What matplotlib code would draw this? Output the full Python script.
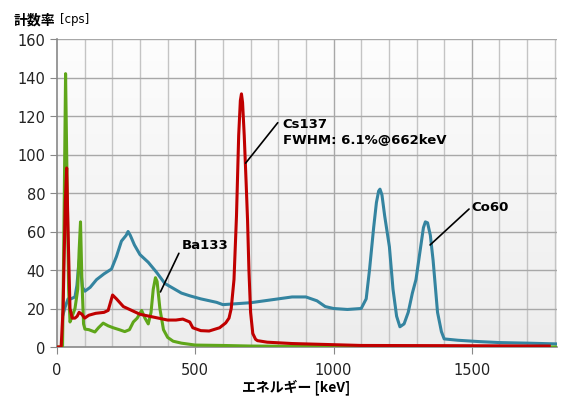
import numpy as np
import matplotlib
matplotlib.use("Agg")
import matplotlib.pyplot as plt

plt.rcParams['font.family'] = ['DejaVu Sans', 'Noto Sans CJK JP']

# Ba133 (green)
ba_kev = [0, 20, 25, 31, 36, 42, 47, 55, 65, 75, 80, 85, 90, 96, 101, 115, 137, 150, 167, 185,
          203, 225, 245, 262, 276, 290, 306, 318, 330, 340, 348, 356, 362, 372, 385, 400, 420,
          450, 500, 600, 700, 900, 1200, 1500, 1808]
ba_cps = [0, 0, 60, 142, 90, 30, 13, 16, 20, 30, 50, 65, 35, 12, 9.3, 9, 7.8, 10, 12.4, 11,
          10, 9, 8, 9, 13, 15, 19, 15, 12, 18, 30, 36, 34, 20, 9, 5, 3, 2, 1, 0.8, 0.5, 0.3,
          0.2, 0.1, 0]

# Cs137 (red)
cs_kev = [0, 15, 22, 30, 35, 40, 47, 55, 65, 73, 80, 90, 100, 115, 140, 170, 185, 195, 201,
          215, 240, 270, 300, 350, 400, 430, 455, 480, 491, 520, 550, 588, 610, 622, 630, 640,
          649, 657, 663, 667, 671, 677, 684, 689, 694, 700, 708, 718, 725, 760, 850, 1000,
          1100, 1400, 1600, 1780]
cs_cps = [0, 0, 20, 75, 93, 60, 20, 15, 15, 16, 18, 17, 15, 16.5, 17.5, 18, 19, 24, 27,
          25, 21, 19, 17, 15.5, 14, 14, 14.5, 13, 10, 8.5, 8.3, 10, 12.5, 15, 20, 35,
          68, 110, 128, 131.5, 127, 110, 85, 66, 40, 18, 7, 4, 3.3, 2.5, 1.8, 1.2,
          0.8, 0.7, 0.6, 0.5]

# Co60 (blue)
co_kev = [22, 30, 40, 50, 65, 72, 78, 82, 86, 92, 101, 120, 143, 170, 197, 215, 233, 250,
          257, 265, 280, 300, 330, 360, 390, 420, 450, 480, 520, 577, 600, 650, 700, 750,
          800, 850, 900, 940, 970, 1000, 1050, 1100, 1118, 1130, 1145, 1155, 1163, 1168,
          1175, 1185, 1202, 1215, 1228, 1240, 1255, 1270, 1285, 1298, 1315, 1325, 1332,
          1340, 1350, 1360, 1376, 1390, 1400, 1450, 1527, 1600, 1700, 1808]
co_cps = [17, 21, 25, 25, 26, 32, 42, 46.5, 40, 31, 29, 31, 35, 38, 40.5, 47, 55, 58,
          60, 58, 53, 48, 44, 38.8, 33, 30.5, 28, 26.6, 25, 23.2, 22, 22.5, 23, 24,
          25, 26, 26, 24, 21, 20, 19.5, 20, 25, 40, 62, 75, 81, 82,
          79, 68, 52, 30, 16, 10.5, 12, 18, 28, 35, 52, 62, 65,
          64.5, 58, 45, 18, 8, 4.2, 3.5, 2.8, 2.3, 2, 1.6]

fig = plt.figure(figsize=(5.73, 4.02), dpi=100)
ax = fig.add_axes([57 / 573, 54 / 402, 500 / 573, 308 / 402])

xmax = 1808
ymax = 160

# light gradient behind the plot area (white at top, grey at bottom)
grad = np.linspace(0, 1, 100).reshape(-1, 1)
bg = matplotlib.colors.LinearSegmentedColormap.from_list('bg', ['#fdfdfd', '#ededed'])
ax.imshow(grad, extent=[0, xmax, 0, ymax], aspect='auto', origin='upper', cmap=bg, zorder=0)

# grid
for xv in range(100, 1801, 100):
    c = '#a8a8a8' if xv % 500 == 0 else '#c4c4c4'
    ax.axvline(xv, color=c, lw=1.0, zorder=1)
for yv in range(20, 161, 20):
    ax.axhline(yv, color='#a8a8a8', lw=1.0, zorder=1)

ax.plot(co_kev, co_cps, color='#3484a0', lw=2.2, zorder=3)
ax.plot(ba_kev, ba_cps, color='#5fa61a', lw=2.2, zorder=4)
ax.plot(cs_kev, cs_cps, color='#c00000', lw=2.2, zorder=5)

ax.set_xlim(0, xmax)
ax.set_ylim(0, ymax)
ax.set_xticks([0, 500, 1000, 1500])
ax.set_yticks(range(0, 161, 20))
ax.tick_params(axis='both', direction='out', length=5, color='#888888', labelsize=10.5,
               labelcolor='#222222')
ax.tick_params(axis='x', pad=6)
for s in ['top', 'right']:
    ax.spines[s].set_visible(False)
for s in ['left', 'bottom']:
    ax.spines[s].set_color('#888888')
    ax.spines[s].set_linewidth(1.2)

# annotations
ax.annotate('Cs137\nFWHM: 6.1%@662keV', xy=(682, 95.5), xytext=(816, 112),
            fontsize=9.5, fontweight='bold', va='center', ha='left', linespacing=1.3,
            arrowprops=dict(arrowstyle='-', color='black', lw=1.2, shrinkA=0, shrinkB=0,
                            relpos=(-0.03, 0.8)), zorder=6)
ax.annotate('Ba133', xy=(374, 28.6), xytext=(450, 53.5),
            fontsize=9.5, fontweight='bold', va='center', ha='left',
            arrowprops=dict(arrowstyle='-', color='black', lw=1.2, shrinkA=0, shrinkB=0,
                            relpos=(0, 0.2)), zorder=6)
ax.annotate('Co60', xy=(1349, 53), xytext=(1500, 73),
            fontsize=9.5, fontweight='bold', va='center', ha='left',
            arrowprops=dict(arrowstyle='-', color='black', lw=1.2, shrinkA=0, shrinkB=0,
                            relpos=(0, 0.5)), zorder=6)

# axis titles
fig.text(14 / 573, 1 - 20 / 402, '計数率', fontsize=10, fontweight='bold',
         family=['Noto Sans CJK JP'], va='center', ha='left')
fig.text(60 / 573, 1 - 20 / 402, '[cps]', fontsize=8.5,
         family=['DejaVu Sans'], va='center', ha='left')
fig.text(296 / 573, 1 - 387 / 402, 'エネルギー [keV]', fontsize=10, fontweight='bold',
         family=['Noto Sans CJK JP', 'DejaVu Sans'], va='center', ha='center')

fig.savefig('out.png', dpi=100)
